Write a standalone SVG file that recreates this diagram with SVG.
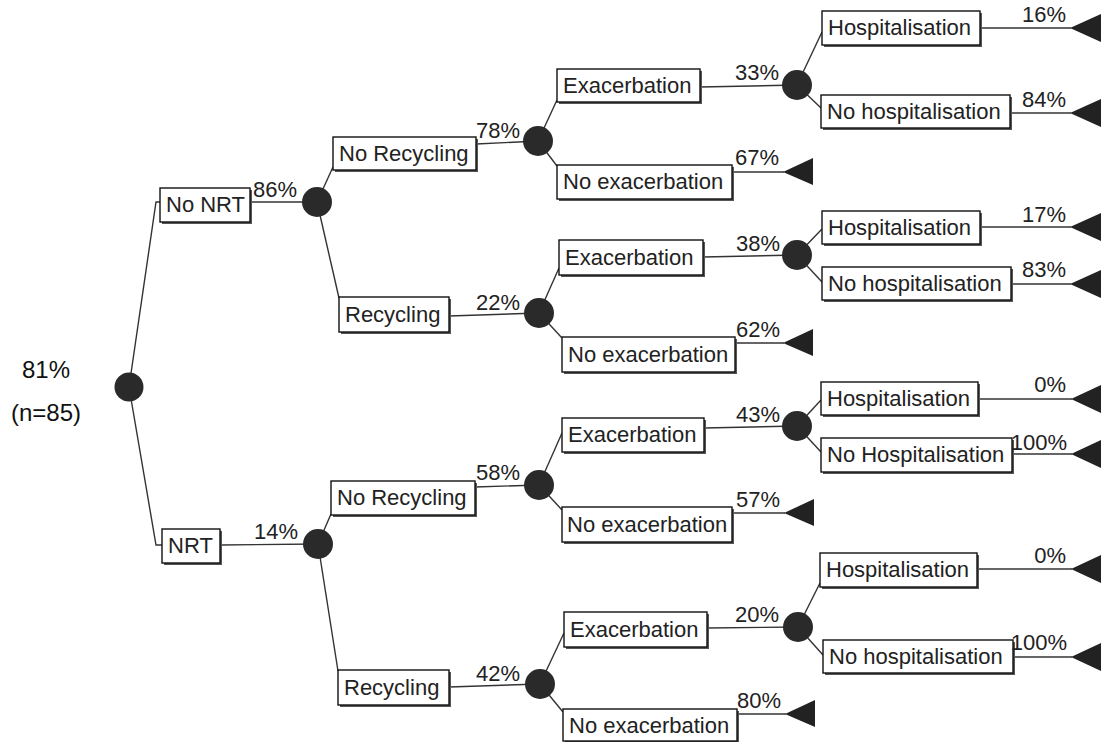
<svg xmlns="http://www.w3.org/2000/svg" width="1104" height="742" viewBox="0 0 1104 742">
<style>
.bx{fill:#fff;stroke:#111;stroke-width:1.4}
.sh{fill:#555}
.t{font-family:"Liberation Sans",Arial,sans-serif;font-size:22px;fill:#222}
.p{font-family:"Liberation Sans",Arial,sans-serif;font-size:22px;fill:#222;text-anchor:end}
.r{font-family:"Liberation Sans",Arial,sans-serif;font-size:24px;fill:#111;text-anchor:middle}
.ch{fill:#2a2a2a}
.tr{fill:#222}
.ln{stroke:#333;stroke-width:1.4;fill:none}
</style>
<rect width="1104" height="742" fill="#fff"/>
<g id="connectors">
<polyline class="ln" points="129,387 156,202 160,202"/>
<polyline class="ln" points="129,387 156,545 162,545"/>
<line class="ln" x1="250" y1="202" x2="317" y2="202"/>
<line class="ln" x1="220" y1="545" x2="318" y2="544"/>
<line class="ln" x1="317" y1="202" x2="333" y2="167"/>
<line class="ln" x1="317" y1="202" x2="339" y2="298"/>
<line class="ln" x1="318" y1="544" x2="331" y2="514"/>
<line class="ln" x1="318" y1="544" x2="338" y2="671"/>
<line class="ln" x1="476" y1="144" x2="538" y2="141"/>
<line class="ln" x1="449" y1="316" x2="539" y2="313"/>
<line class="ln" x1="475" y1="487" x2="539" y2="485"/>
<line class="ln" x1="449" y1="687" x2="540" y2="684"/>
<line class="ln" x1="538" y1="141" x2="557" y2="100"/>
<line class="ln" x1="538" y1="141" x2="557" y2="166"/>
<line class="ln" x1="539" y1="313" x2="559" y2="268"/>
<line class="ln" x1="539" y1="313" x2="562" y2="338"/>
<line class="ln" x1="539" y1="485" x2="562" y2="433"/>
<line class="ln" x1="539" y1="485" x2="562" y2="510"/>
<line class="ln" x1="540" y1="684" x2="564" y2="633"/>
<line class="ln" x1="540" y1="684" x2="563" y2="712"/>
<line class="ln" x1="700" y1="87" x2="797" y2="85"/>
<line class="ln" x1="703" y1="257" x2="797" y2="255"/>
<line class="ln" x1="704" y1="428" x2="797" y2="426"/>
<line class="ln" x1="707" y1="628" x2="798" y2="627"/>
<line class="ln" x1="732" y1="172" x2="784" y2="172"/>
<line class="ln" x1="735" y1="343" x2="784" y2="343"/>
<line class="ln" x1="732" y1="513" x2="785" y2="513"/>
<line class="ln" x1="737" y1="714" x2="786" y2="714"/>
<line class="ln" x1="797" y1="85" x2="822" y2="32"/>
<line class="ln" x1="797" y1="85" x2="821" y2="108"/>
<line class="ln" x1="797" y1="255" x2="822" y2="229"/>
<line class="ln" x1="797" y1="255" x2="822" y2="282"/>
<line class="ln" x1="797" y1="426" x2="821" y2="400"/>
<line class="ln" x1="797" y1="426" x2="821" y2="452"/>
<line class="ln" x1="798" y1="627" x2="820" y2="583"/>
<line class="ln" x1="798" y1="627" x2="823" y2="655"/>
<line class="ln" x1="980" y1="28" x2="1071" y2="28"/>
<line class="ln" x1="1010" y1="113" x2="1071" y2="113"/>
<line class="ln" x1="980" y1="227" x2="1071" y2="227"/>
<line class="ln" x1="1011" y1="284" x2="1071" y2="284"/>
<line class="ln" x1="978" y1="399" x2="1072" y2="399"/>
<line class="ln" x1="1012" y1="454" x2="1072" y2="454"/>
<line class="ln" x1="977" y1="569" x2="1072" y2="569"/>
<line class="ln" x1="1013" y1="657" x2="1072" y2="657"/>
</g>
<g id="root">
<circle class="ch" cx="129" cy="387" r="14.5"/>
<text class="r" x="46" y="378">81%</text>
<text class="r" x="46" y="421">(n=85)</text>
</g>
<g id="chance-nodes">
<circle class="ch" cx="317" cy="202" r="15"/>
<circle class="ch" cx="318" cy="544" r="15"/>
<circle class="ch" cx="538" cy="141" r="15"/>
<circle class="ch" cx="539" cy="313" r="15"/>
<circle class="ch" cx="539" cy="485" r="15"/>
<circle class="ch" cx="540" cy="684" r="15"/>
<circle class="ch" cx="797" cy="85" r="15"/>
<circle class="ch" cx="797" cy="255" r="15"/>
<circle class="ch" cx="797" cy="426" r="15"/>
<circle class="ch" cx="798" cy="627" r="15"/>
</g>
<g id="terminals">
<polygon class="tr" points="783,172 813,158 813,185"/>
<polygon class="tr" points="783,343 813,329 813,356"/>
<polygon class="tr" points="784,513 814,499 814,526"/>
<polygon class="tr" points="785,714 815,700 815,727"/>
<polygon class="tr" points="1070,28 1101,14 1101,42"/>
<polygon class="tr" points="1070,113 1101,99 1101,127"/>
<polygon class="tr" points="1070,227 1101,213 1101,241"/>
<polygon class="tr" points="1070,284 1101,270 1101,298"/>
<polygon class="tr" points="1071,399 1101,385 1101,413"/>
<polygon class="tr" points="1071,454 1101,440 1101,468"/>
<polygon class="tr" points="1071,569 1101,555 1101,583"/>
<polygon class="tr" points="1071,657 1101,643 1101,671"/>
</g>
<g id="n-nonrt"><rect class="sh" x="162" y="190" width="90" height="34"/><rect class="bx" x="160" y="188" width="90" height="34"/><text class="t" x="166" y="212">No NRT</text><text class="p" x="297" y="197">86%</text></g>
<g id="n-nrt"><rect class="sh" x="164" y="531" width="58" height="34"/><rect class="bx" x="162" y="529" width="58" height="34"/><text class="t" x="168" y="553">NRT</text><text class="p" x="298" y="539">14%</text></g>
<g id="n-norec1"><rect class="sh" x="335" y="139" width="143" height="33"/><rect class="bx" x="333" y="137" width="143" height="33"/><text class="t" x="339" y="161">No Recycling</text><text class="p" x="520" y="138">78%</text></g>
<g id="n-rec1"><rect class="sh" x="341" y="299" width="110" height="35"/><rect class="bx" x="339" y="297" width="110" height="35"/><text class="t" x="345" y="322">Recycling</text><text class="p" x="520" y="310">22%</text></g>
<g id="n-norec2"><rect class="sh" x="333" y="483" width="144" height="34"/><rect class="bx" x="331" y="481" width="144" height="34"/><text class="t" x="337" y="505">No Recycling</text><text class="p" x="520" y="480">58%</text></g>
<g id="n-rec2"><rect class="sh" x="340" y="672" width="111" height="35"/><rect class="bx" x="338" y="670" width="111" height="35"/><text class="t" x="344" y="695">Recycling</text><text class="p" x="520" y="681">42%</text></g>
<g id="n-exa1"><rect class="sh" x="559" y="71" width="143" height="33"/><rect class="bx" x="557" y="69" width="143" height="33"/><text class="t" x="563" y="93">Exacerbation</text><text class="p" x="779" y="80">33%</text></g>
<g id="n-noexa1"><rect class="sh" x="559" y="167" width="175" height="34"/><rect class="bx" x="557" y="165" width="175" height="34"/><text class="t" x="563" y="189">No exacerbation</text><text class="p" x="779" y="165">67%</text></g>
<g id="n-exa2"><rect class="sh" x="561" y="242" width="144" height="35"/><rect class="bx" x="559" y="240" width="144" height="35"/><text class="t" x="565" y="265">Exacerbation</text><text class="p" x="780" y="251">38%</text></g>
<g id="n-noexa2"><rect class="sh" x="564" y="339" width="173" height="35"/><rect class="bx" x="562" y="337" width="173" height="35"/><text class="t" x="568" y="362">No exacerbation</text><text class="p" x="780" y="337">62%</text></g>
<g id="n-exa3"><rect class="sh" x="564" y="420" width="142" height="34"/><rect class="bx" x="562" y="418" width="142" height="34"/><text class="t" x="568" y="442">Exacerbation</text><text class="p" x="780" y="422">43%</text></g>
<g id="n-noexa3"><rect class="sh" x="564" y="509" width="170" height="35"/><rect class="bx" x="562" y="507" width="170" height="35"/><text class="t" x="567" y="532">No exacerbation</text><text class="p" x="780" y="507">57%</text></g>
<g id="n-exa4"><rect class="sh" x="566" y="614" width="143" height="35"/><rect class="bx" x="564" y="612" width="143" height="35"/><text class="t" x="570" y="637">Exacerbation</text><text class="p" x="779" y="622">20%</text></g>
<g id="n-noexa4"><rect class="sh" x="565" y="711" width="174" height="32"/><rect class="bx" x="563" y="709" width="174" height="32"/><text class="t" x="569" y="733">No exacerbation</text><text class="p" x="781" y="708">80%</text></g>
<g id="n-hos1"><rect class="sh" x="824" y="13" width="158" height="34"/><rect class="bx" x="822" y="11" width="158" height="34"/><text class="t" x="828" y="35">Hospitalisation</text><text class="p" x="1066" y="22">16%</text></g>
<g id="n-nohos1"><rect class="sh" x="823" y="97" width="189" height="33"/><rect class="bx" x="821" y="95" width="189" height="33"/><text class="t" x="827" y="119">No hospitalisation</text><text class="p" x="1066" y="107">84%</text></g>
<g id="n-hos2"><rect class="sh" x="824" y="213" width="158" height="33"/><rect class="bx" x="822" y="211" width="158" height="33"/><text class="t" x="828" y="235">Hospitalisation</text><text class="p" x="1066" y="222">17%</text></g>
<g id="n-nohos2"><rect class="sh" x="824" y="269" width="189" height="33"/><rect class="bx" x="822" y="267" width="189" height="33"/><text class="t" x="828" y="291">No hospitalisation</text><text class="p" x="1066" y="277">83%</text></g>
<g id="n-hos3"><rect class="sh" x="823" y="384" width="157" height="33"/><rect class="bx" x="821" y="382" width="157" height="33"/><text class="t" x="827" y="406">Hospitalisation</text><text class="p" x="1066" y="392">0%</text></g>
<g id="n-nohos3"><rect class="sh" x="823" y="440" width="191" height="34"/><rect class="bx" x="821" y="438" width="191" height="34"/><text class="t" x="827" y="462">No Hospitalisation</text><text class="p" x="1067" y="450">100%</text></g>
<g id="n-hos4"><rect class="sh" x="822" y="555" width="157" height="34"/><rect class="bx" x="820" y="553" width="157" height="34"/><text class="t" x="826" y="577">Hospitalisation</text><text class="p" x="1066" y="563">0%</text></g>
<g id="n-nohos4"><rect class="sh" x="825" y="642" width="190" height="33"/><rect class="bx" x="823" y="640" width="190" height="33"/><text class="t" x="829" y="664">No hospitalisation</text><text class="p" x="1067" y="650">100%</text></g>
</svg>
